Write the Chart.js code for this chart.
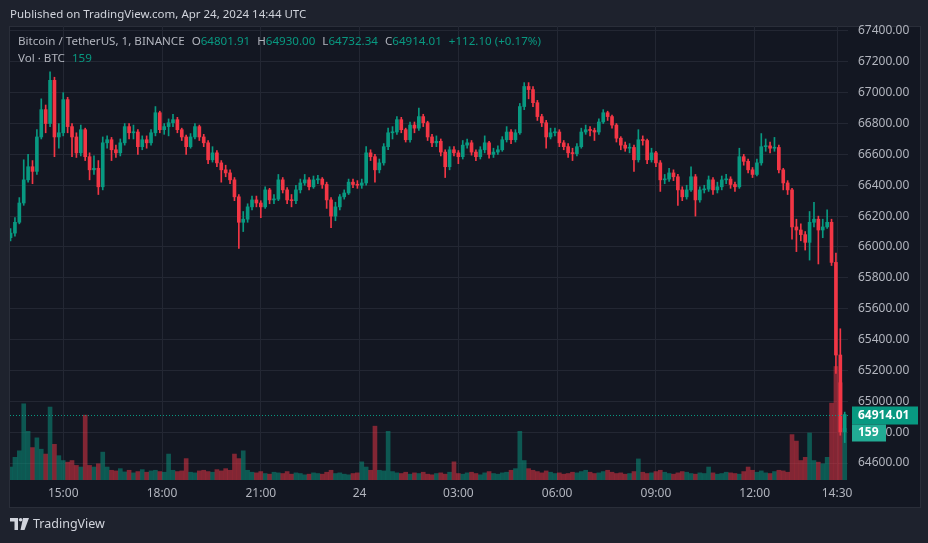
<!DOCTYPE html>
<html><head><meta charset="utf-8">
<script src="https://cdn.jsdelivr.net/npm/chart.js@4.4.1/dist/chart.umd.min.js"></script>
<style>
html,body{margin:0;padding:0;background:#1e222d;}
#wrap{position:relative;width:928px;height:543px;overflow:hidden;font-family:"Noto Sans",sans-serif;}
canvas{position:absolute;left:0;top:0;}
.t{position:absolute;white-space:nowrap;font-size:11.6px;line-height:14px;color:#b2b5be;}
.g{color:#089981;}
.s{margin-left:7px;}
</style></head><body>
<div id="wrap">
<canvas id="c" width="928" height="543"></canvas>
<div class="t" style="left:10px;top:7px;color:#d1d4dc;font-size:11.5px">Published on TradingView.com, Apr 24, 2024 14:44 UTC</div>
<div class="t" style="left:18px;top:34px">Bitcoin / TetherUS, 1, BINANCE<span class="s">O</span><span class="g">64801.91</span><span class="s">H</span><span class="g">64930.00</span><span class="s">L</span><span class="g">64732.34</span><span class="s">C</span><span class="g">64914.01</span><span class="g s">+112.10 (+0.17%)</span></div>
<div class="t" style="left:18px;top:51px">Vol · BTC<span class="g s">159</span></div>
<svg style="position:absolute;left:10px;top:518px" width="20" height="12" viewBox="0 0 20 12">
<path d="M0 0H8V12H4.5V3.5H0Z" fill="#d1d4dc"/><circle cx="10.6" cy="1.8" r="1.8" fill="#d1d4dc"/><path d="M13 0H19L14.5 12H10.5Z" fill="#d1d4dc"/>
</svg>
<div class="t" style="left:33px;top:517px;color:#d1d4dc;font-size:12.5px">TradingView</div>
</div>
<script>
// 8-minute candles, BTC/USDT, starting Apr 23 13:24 UTC
const startMinute = 804;
const stepMinutes = 8;
const opens = [
66060,66090,66160,66285,66435,66520,66490,66713,66890,66800,
67080,66713,66740,66955,66780,66713,66610,66760,66585,66500,
66510,66390,66675,66695,66630,66610,66675,66780,66740,66745,
66650,66695,66675,66740,66870,66760,66780,66805,66825,66760,
66713,66650,66713,66780,66713,66675,66565,66610,66545,66500,
66480,66435,66325,66160,66180,66260,66305,66285,66260,66370,
66305,66310,66435,66370,66305,66300,66370,66415,66435,66390,
66435,66440,66405,66305,66200,66260,66325,66350,66420,66405,
66400,66415,66610,66585,66500,66545,66650,66740,66745,66825,
66760,66695,66790,66770,66845,66805,66713,66675,66685,66615,
66520,66630,66610,66585,66660,66675,66615,66585,66630,66675,
66600,66615,66630,66695,66745,66695,66740,66910,67040,67020,
66935,66845,66805,66713,66740,66745,66675,66650,66610,66605,
66650,66745,66760,66755,66745,66810,66870,66845,66790,66705,
66660,66640,66645,66565,66695,66690,66565,66610,66545,66435,
66440,66480,66455,66370,66325,66370,66455,66305,66370,66375,
66435,66370,66390,66435,66440,66405,66390,66585,66555,66500,
66470,66545,66650,66655,66640,66645,66500,66415,66370,66130,
66110,66080,66030,66160,66180,66110,66130,66160,65900,65300,
64801.91];
const highs = [
66120,66190,66320,66565,66600,66560,66760,66960,66920,67135,
67100,66800,67000,66970,66800,66740,66790,66770,66610,66590,
66560,66713,66720,66710,66660,66700,66800,66800,66790,66760,
66720,66720,66760,66910,66880,66800,66830,66860,66840,66770,
66725,66735,66800,66790,66730,66690,66650,66625,66560,66530,
66500,66450,66340,66230,66280,66330,66330,66300,66390,66380,
66340,66470,66450,66385,66340,66400,66440,66470,66450,66460,
66465,66450,66420,66320,66290,66340,66370,66440,66440,66430,
66440,66650,66630,66600,66570,66670,66770,66780,66845,66840,
66770,66810,66810,66900,66860,66815,66730,66720,66700,66630,
66650,66650,66625,66690,66700,66690,66630,66650,66720,66685,
66640,66655,66715,66780,66760,66760,66930,67065,67065,67040,
66950,66860,66820,66770,66770,66760,66690,66670,66640,66670,
66770,66790,66780,66770,66830,66890,66880,66855,66800,66715,
66680,66670,66660,66760,66720,66700,66640,66620,66560,66470,
66510,66500,66470,66390,66400,66520,66470,66390,66400,66460,
66450,66420,66460,66470,66455,66420,66640,66600,66570,66515,
66570,66735,66700,66680,66710,66660,66510,66430,66380,66180,
66150,66100,66230,66290,66200,66180,66240,66180,65960,65470,
64930];
const lows = [
66040,66070,66150,66270,66420,66410,66470,66700,66740,66780,
66585,66640,66720,66740,66585,66580,66590,66560,66435,66470,
66340,66370,66640,66560,66580,66590,66660,66700,66700,66600,
66630,66640,66660,66720,66740,66730,66720,66780,66740,66690,
66600,66640,66700,66690,66650,66540,66550,66520,66420,66455,
66410,66300,65990,66100,66160,66240,66260,66190,66250,66280,
66280,66300,66350,66280,66260,66280,66350,66400,66370,66380,
66410,66380,66250,66125,66170,66240,66310,66340,66385,66380,
66380,66400,66560,66420,66480,66530,66630,66700,66730,66740,
66680,66680,66740,66755,66780,66690,66650,66650,66590,66450,
66500,66590,66540,66570,66640,66595,66560,66570,66610,66575,
66580,66600,66620,66680,66670,66680,66730,66890,66960,66910,
66820,66780,66640,66700,66720,66650,66630,66580,66560,66590,
66640,66730,66720,66690,66730,66800,66820,66770,66680,66630,
66620,66610,66490,66550,66660,66540,66550,66520,66360,66410,
66425,66430,66270,66300,66310,66360,66200,66290,66350,66360,
66340,66350,66370,66410,66380,66360,66380,66530,66480,66450,
66460,66530,66620,66610,66620,66480,66370,66340,66050,65970,
66040,65980,65915,66130,65890,66060,66120,65880,65180,64780,
64732.34];
const closes = [
66090,66160,66285,66435,66520,66490,66713,66890,66800,67080,
66713,66740,66955,66780,66713,66610,66760,66585,66500,66510,
66390,66675,66695,66630,66610,66675,66780,66740,66745,66650,
66695,66675,66740,66870,66760,66780,66805,66825,66760,66713,
66650,66713,66780,66713,66675,66565,66610,66545,66500,66480,
66435,66325,66160,66180,66260,66305,66285,66260,66370,66305,
66310,66435,66370,66305,66300,66370,66415,66435,66390,66435,
66440,66405,66305,66200,66260,66325,66350,66420,66405,66400,
66415,66610,66585,66500,66545,66650,66740,66745,66825,66760,
66695,66790,66770,66845,66805,66713,66675,66685,66615,66520,
66630,66610,66585,66660,66675,66615,66585,66630,66675,66600,
66615,66630,66695,66745,66695,66740,66910,67040,67020,66935,
66845,66805,66713,66740,66745,66675,66650,66610,66605,66650,
66745,66760,66755,66745,66810,66870,66845,66790,66705,66660,
66640,66645,66565,66695,66690,66565,66610,66545,66435,66440,
66480,66455,66370,66325,66370,66455,66305,66370,66375,66435,
66370,66390,66435,66440,66405,66390,66585,66555,66500,66470,
66545,66650,66655,66640,66645,66500,66415,66370,66130,66110,
66080,66030,66160,66180,66110,66130,66160,65900,65300,64802,
64914.01];
const volumes = [
40,70,90,235,150,100,130,95,80,225,110,75,60,55,60,45,40,200,45,40,50,86,40,
30,28,35,25,30,22,26,32,24,28,30,26,24,
80,30,26,28,66,
24,22,28,30,26,24,32,28,35,30,
80,66,90,
30,24,22,26,20,18,24,22,20,26,18,22,20,16,18,22,20,18,24,30,20,22,18,16,20,22,
56,40,30,166,30,28,150,
26,22,20,24,18,22,20,24,18,16,20,22,18,24,
56,
20,18,22,24,20,16,22,26,20,18,22,24,30,35,
150,60,
35,30,26,22,28,24,20,22,18,20,24,22,26,30,24,20,22,26,30,24,20,22,18,20,26,
65,
24,20,22,26,30,24,20,18,22,26,24,20,18,22,20,40,22,18,20,24,22,20,18,26,40,30,24,28,22,20,26,30,28,24,
140,120,60,70,145,60,55,50,70,237,350,300,159];
const timeTicks = [900,1080,1260,1440,1620,1800,1980,2160,2310];
const timeLabels = ['15:00','18:00','21:00','24','03:00','06:00','09:00','12:00','14:30'];
const priceTicks = [64600,64800,65000,65200,65400,65600,65800,66000,66200,66400,66600,66800,67000,67200,67400];
const lastPrice = 64914.01;
const lastVolume = 159;

const UP = '#089981', DN = '#f23645';
const xs = closes.map((_, i) => startMinute + i * stepMinutes);
const up = closes.map((c, i) => c >= opens[i]);
const cCol = up.map(u => u ? UP : DN);
const vCol = up.map(u => u ? 'rgba(8,153,129,0.5)' : 'rgba(242,54,69,0.5)');
const FONT = '"Noto Sans", sans-serif';

const bg = {
  id: 'bg',
  beforeDraw(chart) {
    const c = chart.ctx;
    c.save();
    c.fillStyle = '#1e222d';
    c.fillRect(0, 0, chart.width, chart.height);
    c.fillStyle = '#131722';
    c.fillRect(9, 26, 911, 481);
    c.strokeStyle = '#2a2e39';
    c.lineWidth = 1;
    c.strokeRect(9.5, 26.5, 911, 481);
    c.restore();
  }
};
const priceLine = {
  id: 'priceLine',
  afterDraw(chart) {
    const c = chart.ctx, y = chart.scales.y, a = chart.chartArea;
    const py = Math.round(y.getPixelForValue(lastPrice)) + 0.5;
    c.save();
    c.strokeStyle = UP; c.lineWidth = 1; c.setLineDash([1, 2]);
    c.beginPath(); c.moveTo(a.left, py); c.lineTo(a.right, py); c.stroke();
    c.setLineDash([]);
    c.fillStyle = UP;
    c.fillRect(a.right + 4, py - 9, 66, 18);
    c.fillStyle = '#22ab94';
    c.fillRect(a.right + 4, py + 9, 34, 17);
    c.fillStyle = '#ffffff';
    c.font = 'bold 12px ' + FONT;
    c.textBaseline = 'middle'; c.textAlign = 'left';
    c.fillText(lastPrice.toFixed(2), a.right + 10, py + 0.5);
    c.fillText(String(lastVolume), a.right + 10, py + 17.5);
    c.restore();
  }
};

new Chart(document.getElementById('c'), {
  type: 'bar',
  data: {
    datasets: [
      { data: xs.map((x, i) => ({ x, y: [opens[i], closes[i]] })), backgroundColor: cCol, barThickness: 3, grouped: false, yAxisID: 'y', order: 1, minBarLength: 1 },
      { data: xs.map((x, i) => ({ x, y: [lows[i], highs[i]] })), backgroundColor: cCol, barThickness: 1, grouped: false, yAxisID: 'y', order: 2 },
      { data: xs.map((x, i) => ({ x, y: volumes[i] })), backgroundColor: vCol, barThickness: 4, grouped: false, yAxisID: 'v', order: 3 }
    ]
  },
  options: {
    responsive: false, animation: false, devicePixelRatio: 1,
    layout: { padding: { left: 10, top: 26, right: 8, bottom: 36 } },
    plugins: { legend: { display: false }, tooltip: { enabled: false } },
    scales: {
      x: {
        type: 'linear', min: 803, max: 2330, offset: false,
        afterBuildTicks: s => { s.ticks = timeTicks.map(v => ({ value: v })); },
        afterFit: s => { s.height = 27; },
        ticks: { callback: v => timeLabels[timeTicks.indexOf(v)], color: '#b2b5be', font: { size: 12, family: FONT }, padding: 6, maxRotation: 0, autoSkip: false },
        grid: { color: '#232733', drawTicks: false, offset: false },
        border: { display: false }
      },
      y: {
        position: 'right', min: 64490, max: 67432,
        afterBuildTicks: s => { s.ticks = priceTicks.map(v => ({ value: v })); },
        afterFit: s => { s.width = 72; },
        ticks: { callback: v => v.toFixed(2), color: '#b2b5be', font: { size: 12, family: FONT }, padding: 10 },
        grid: { color: '#232733', drawTicks: false },
        border: { display: false }
      },
      v: { display: false, min: 0, max: 1400 }
    }
  },
  plugins: [bg, priceLine]
});
</script>
</body></html>
